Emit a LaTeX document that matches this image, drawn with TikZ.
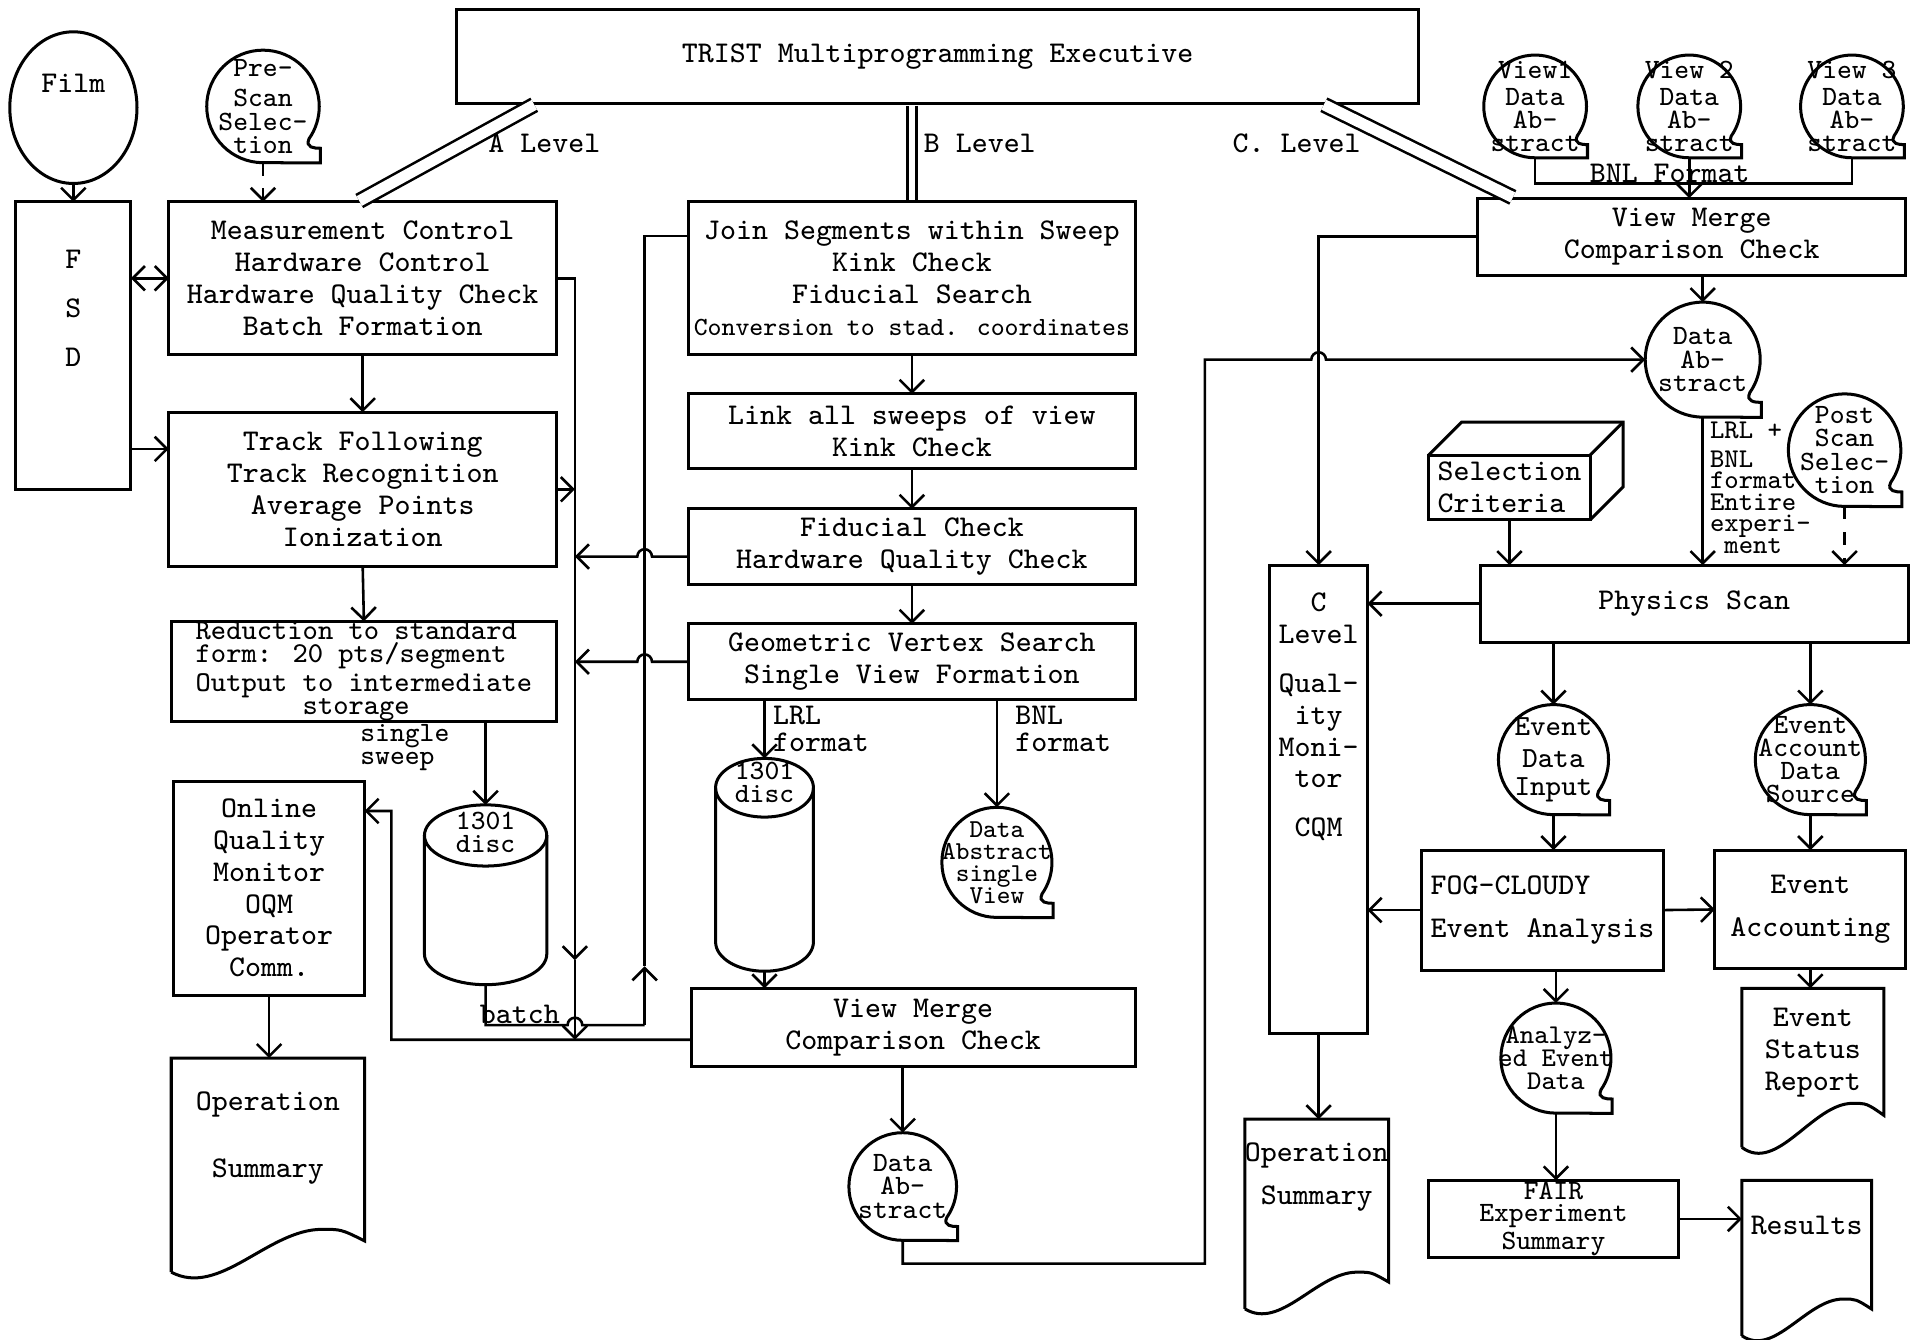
\documentclass[tikz,border=0pt]{standalone}
\usepackage{fontspec}
\usetikzlibrary{arrows.meta,shapes.geometric,calc}

\tikzset{
  every node/.style={font=\ttfamily\fontsize{7}{7.4}\selectfont, inner sep=0pt, outer sep=0pt},
  boxline/.style={line width=0.7pt},
  conn/.style={line width=0.6pt},
  flow/.style={conn, ->},
  proc/.style={draw, boxline, rectangle, align=center},
  tape/.style={rectangle, align=center, font=\ttfamily\fontsize{6.5}{5.4}\selectfont},
  smalltxt/.style={font=\ttfamily\fontsize{6.5}{5.4}\selectfont},
  level/.style={conn, double, double distance=0.9mm, shorten <=0.4pt, shorten >=0.4pt},
}

% magnetic tape outline round a tape node (name, radius)
\newcommand{\tapeoutline}[2]{%
  \draw[boxline] (#1.south) arc[start angle=-90, end angle=-395, radius=#2]
    .. controls +(-115:0.18*#2) and +(180:0.1*#2) .. ++(0.2*#2,-0.17*#2)
    -- ++(0,-0.26*#2) -- (#1.south);}
% printed document outline (name, wave height)
\newcommand{\docoutline}[2]{%
  \draw[boxline] (#1.south west) -- (#1.north west) -- (#1.north east)
    -- ($(#1.south east)+(0,0.73*#2)$)
    .. controls ($(#1.south west)!0.88!(#1.south east)+(0,#2)$) .. ($(#1.south west)!0.78!(#1.south east)+(0,#2)$)
    .. controls ($(#1.south west)!0.5!(#1.south east)+(0,#2)$) and ($(#1.south west)!0.25!(#1.south east)+(0,-0.6*#2)$) .. (#1.south west);}
% disc file outline (name, x radius, y radius)
\newcommand{\discoutline}[3]{%
  \draw[boxline] ($(#1.north)+(0,-#3)$) ellipse[x radius=#2, y radius=#3];
  \draw[boxline] ($(#1.north west)+(0,-#3)$) -- ($(#1.south west)+(0,#3)$)
    arc[start angle=180, end angle=360, x radius=#2, y radius=#3]
    -- ($(#1.north east)+(0,-#3)$);}

\begin{document}
\begin{tikzpicture}[x=0.1mm, y=0.1mm, >={Straight Barb[length=1mm,width=2mm]}]
\useasboundingbox (0,0) rectangle (1568,1095);

% executive
\node[proc, minimum width=78.7mm, minimum height=7.7mm] (exec) at (766.5,1048.5) {TRIST Multiprogramming Executive};

% A level
\node[ellipse, draw, boxline, align=center, minimum width=10.4mm, minimum height=12.4mm] (film) at (60,1007) {Film\\[1.4mm]\mbox{}};
\node[proc, minimum width=9.4mm, minimum height=23.5mm] (fsd) at (60,812.5) {F\\[1.4mm]S\\[1.4mm]D\\[3.5mm]\mbox{}};
\node[tape, minimum size=9.2mm] (prescan) at (215,1008) {Pre-\\[0.6mm]Scan\\Selec-\\tion};
\tapeoutline{prescan}{46}
\node[proc, minimum width=31.7mm, minimum height=12.5mm] (meas) at (296.5,867.5) {Measurement Control\\Hardware Control\\Hardware Quality Check\\Batch Formation};
\node[proc, minimum width=31.7mm, minimum height=12.6mm] (track) at (296.5,695) {Track Following\\Track Recognition\\Average Points\\Ionization};
\node[proc, align=left, minimum width=31.5mm, minimum height=8.2mm, font=\ttfamily\fontsize{6.7}{5.4}\selectfont] (reduc) at (297.5,546) {Reduction to standard\\form: 20 pts/segment\\Output to intermediate\\\hphantom{Reducti}storage};
\node[proc, minimum width=15.6mm, minimum height=17.5mm] (oqm) at (220,369) {Online\\Quality\\Monitor\\OQM\\Operator\\Comm.};
\node[align=center, minimum width=15.8mm, minimum height=17.5mm] (opsum1) at (219,142.5) {Operation\\[2.9mm]Summary\\[2.4mm]\mbox{}};
\docoutline{opsum1}{35}
\node[smalltxt, align=center, minimum width=10mm, minimum height=14.7mm] (disca) at (397,363.5) {1301\\disc\\[8.3mm]\mbox{}};
\discoutline{disca}{50}{25}
\node[smalltxt, align=left, anchor=north] (sweeplbl) at (331,503) {single\\sweep};
\node (batchlbl) at (425,266) {batch};
\node (alvl) at (445,978) {A Level};

\draw[level] ([xshift=6.5mm]exec.south west) -- ([xshift=-0.4mm]meas.north);
\draw[flow] (film.south) -- (fsd.north);
\draw[flow, dashed] (prescan.south) -- (prescan.south |- meas.north);
\draw[conn, <->] (meas.west -| fsd.east) -- (meas.west);
\draw[flow] ([yshift=3.3mm]track.west -| fsd.east) -- ([yshift=3.3mm]track.west);
\draw[flow] (meas.south) -- (track.north);
\draw[flow] (track.south) -- (reduc.north);
\draw[flow] (reduc.south -| disca.north) -- (disca.north);
\draw[flow] (oqm.south) -- (oqm.south |- opsum1.north);

% B level
\node[proc, minimum width=36.5mm, minimum height=12.5mm] (join) at (745.5,867.5) {Join Segments within Sweep\\Kink Check\\Fiducial Search\\{\fontsize{6.1}{7.4}\selectfont Conversion to stad. coordinates}};
\node[proc, minimum width=36.5mm, minimum height=6.1mm] (link) at (745.5,742.5) {Link all sweeps of view\\Kink Check};
\node[proc, minimum width=36.5mm, minimum height=6.2mm] (fidu) at (745.5,648) {Fiducial Check\\Hardware Quality Check};
\node[proc, minimum width=36.5mm, minimum height=6.2mm] (geom) at (745.5,554) {Geometric Vertex Search\\Single View Formation};
\node[smalltxt, align=center, minimum width=8mm, minimum height=17.4mm] (discb) at (625,388) {1301\\disc\\[11.6mm]\mbox{}};
\discoutline{discb}{40}{24}
\node[tape, minimum size=9mm, font=\ttfamily\fontsize{6}{5.1}\selectfont] (dasv) at (815,390) {Data\\Abstract\\single\\View};
\tapeoutline{dasv}{45}
\node[proc, minimum width=36.3mm, minimum height=6.4mm] (vmB) at (746.5,255) {View Merge\\Comparison Check};
\node[tape, minimum size=8.8mm] (daB) at (738,125) {Data\\Ab-\\stract};
\tapeoutline{daB}{44}
\node[align=left, font=\ttfamily\fontsize{7}{6.4}\selectfont, anchor=west] (lrllbl) at (632,499) {LRL\\format};
\node[align=left, font=\ttfamily\fontsize{7}{6.4}\selectfont, anchor=west] (bnllbl) at (830,499) {BNL\\format};
\node (blvl) at (801,978) {B Level};

\draw[level, double distance=0.5mm] (join.north |- exec.south) -- (join.north);
\draw[flow] (join.south) -- (link.north);
\draw[flow] (link.south) -- (fidu.north);
\draw[flow] (fidu.south) -- (geom.north);
\draw[flow] (discb.north |- geom.south) -- (discb.north);
\draw[flow] (dasv.north |- geom.south) -- (dasv.north);
\draw[flow] (discb.south) -- (discb.south |- vmB.north);
\draw[flow] (daB.north |- vmB.south) -- (daB.north);

% buses between A and B
\coordinate (busL) at (470,245);
\coordinate (busR) at (527,257);
\draw[flow] (meas.east) -| (busL |- 0,310);
\draw[flow] (busL |- 0,310) -- (busL);
\draw[flow] (track.east) -- (track.east -| busL);
\draw[flow] ([yshift=-0.8mm]fidu.west) -- (533,640) arc[start angle=0, end angle=180, radius=6] -- (busL |- 0,640);
\draw[flow] (geom.west) -- (533,554) arc[start angle=0, end angle=180, radius=6] -- (busL |- 0,554);
\draw[conn] (disca.south) |- (464,257) arc[start angle=180, end angle=0, radius=6] -- (busR);
\draw[flow] (busR) -- (busR |- 0,305);
\draw[conn] (busR |- 0,305) |- ([yshift=3.45mm]join.west);
\draw[flow] ([yshift=-1mm]vmB.west) -- (320,245) |- ([yshift=6.3mm]oqm.east);

% C level
\node[tape, minimum size=8.4mm] (view1) at (1255,1008) {View1\\[0.3mm]Data\\Ab-\\stract};
\tapeoutline{view1}{42}
\node[tape, minimum size=8.4mm] (view2) at (1381,1008) {View 2\\[0.3mm]Data\\Ab-\\stract};
\tapeoutline{view2}{42}
\node[tape, minimum size=8.4mm] (view3) at (1514,1008) {View 3\\[0.3mm]Data\\Ab-\\stract};
\tapeoutline{view3}{42}
\node (bnlfmt) at (1365,953) {BNL Format};
\node[proc, minimum width=35mm, minimum height=6.3mm] (vmC) at (1383,901.5) {View Merge\\Comparison Check};
\node[tape, minimum size=9.4mm] (daC) at (1392,801) {Data\\Ab-\\stract};
\tapeoutline{daC}{47}
\node[align=left, anchor=north west, font=\ttfamily\fontsize{6.3}{5}\selectfont] (fmtlbl) at (1398,750) {LRL +\\[0.6mm]BNL\\format\\Entire\\experi-\\\ ment};
\node[tape, minimum size=9.2mm] (postscan) at (1508,727) {Post\\Scan\\Selec-\\tion};
\tapeoutline{postscan}{46}
\node[proc, align=left, minimum width=13.2mm, minimum height=5.3mm] (selcrit) at (1234,696.5) {Selection\\Criteria};
\draw[boxline] (selcrit.north west) -- ++(27,27) -- ($(selcrit.north east)+(27,27)$) -- ($(selcrit.south east)+(27,27)$) -- (selcrit.south east);
\draw[boxline] (selcrit.north east) -- ++(27,27);
\node[proc, minimum width=35mm, minimum height=6.3mm] (phys) at (1385,601.5) {Physics Scan};
\node[proc, minimum width=8mm, minimum height=38.3mm] (cqm) at (1078,441.5) {C\\Level\\[1.4mm]Qual-\\ity\\Moni-\\tor\\[1.4mm]CQM\\[11.2mm]\mbox{}};
\node[align=center, minimum width=11.7mm, minimum height=15.5mm] (opsum2) at (1076.5,102.5) {Operation\\[0.9mm]Summary\\[4mm]\mbox{}};
\docoutline{opsum2}{30}
\node[tape, minimum size=9mm, font=\ttfamily\fontsize{6.8}{6.6}\selectfont] (edi) at (1270,474) {Event\\[0.3mm]Data\\Input};
\tapeoutline{edi}{45}
\node[tape, minimum size=9mm] (eads) at (1480,474) {Event\\Account\\Data\\Source};
\tapeoutline{eads}{45}
\node[proc, align=left, minimum width=19.8mm, minimum height=9.8mm] (fog) at (1261,351) {FOG-CLOUDY\\[0.9mm]Event Analysis};
\node[proc, minimum width=15.6mm, minimum height=9.7mm] (evacc) at (1480,351.5) {Event\\[0.9mm]Accounting};
\node[align=center, minimum width=11.6mm, minimum height=13mm] (esr) at (1482,222) {Event\\Status\\Report\\[0.4mm]\mbox{}};
\docoutline{esr}{36}
\node[tape, minimum size=9mm, font=\ttfamily\fontsize{6.3}{5.4}\selectfont] (aed) at (1272,230) {Analyz-\\ed Event\\Data};
\tapeoutline{aed}{45}
\node[proc, minimum width=20.4mm, minimum height=6.3mm, font=\ttfamily\fontsize{6.5}{5.2}\selectfont] (fair) at (1270,98.5) {FAIR\\Experiment\\Summary};
\node[align=center, minimum width=10.6mm, minimum height=12.7mm] (results) at (1477,66.5) {Results\\[2.7mm]\mbox{}};
\docoutline{results}{30}
\node (clvl) at (1060,978) {C. Level};

\draw[level] ([xshift=-7.9mm]exec.south east) -- ([xshift=3mm]vmC.north west);
\draw[conn] (view1.south) |- (view3.south |- 0,945) -- (view3.south);
\draw[flow] (view2.south) -- (view2.south |- vmC.north);
\draw[flow] (vmC.west) -| (cqm.north);
\draw[flow] (daC.north |- vmC.south) -- (daC.north);
\draw[flow] (daC.south) -- (daC.south |- phys.north);
\draw[flow, dashed] (postscan.south) -- (postscan.south |- phys.north);
\draw[flow] (selcrit.south) -- (selcrit.south |- phys.north);
\draw[flow] (phys.west) -- (phys.west -| cqm.east);
\draw[flow] (edi.north |- phys.south) -- (edi.north);
\draw[flow] (eads.north |- phys.south) -- (eads.north);
\draw[flow] (edi.south) -- (edi.south |- fog.north);
\draw[flow] (eads.south) -- (eads.south |- evacc.north);
\draw[flow] (fog.west) -- (fog.west -| cqm.east);
\draw[flow] (fog.east) -- (evacc.west);
\draw[flow] (evacc.south) -- (evacc.south |- esr.north);
\draw[flow] (aed.north |- fog.south) -- (aed.north);
\draw[flow] (aed.south) -- (aed.south |- fair.north);
\draw[flow] (fair.east) -- (fair.east -| results.west);
\draw[flow] (cqm.south) -- (cqm.south |- opsum2.north);
\draw[flow] (daB.south) |- (985,62) -- (985,801) -- (1072,801) arc[start angle=180, end angle=0, radius=6] -- (daC.west);
\end{tikzpicture}
\end{document}
